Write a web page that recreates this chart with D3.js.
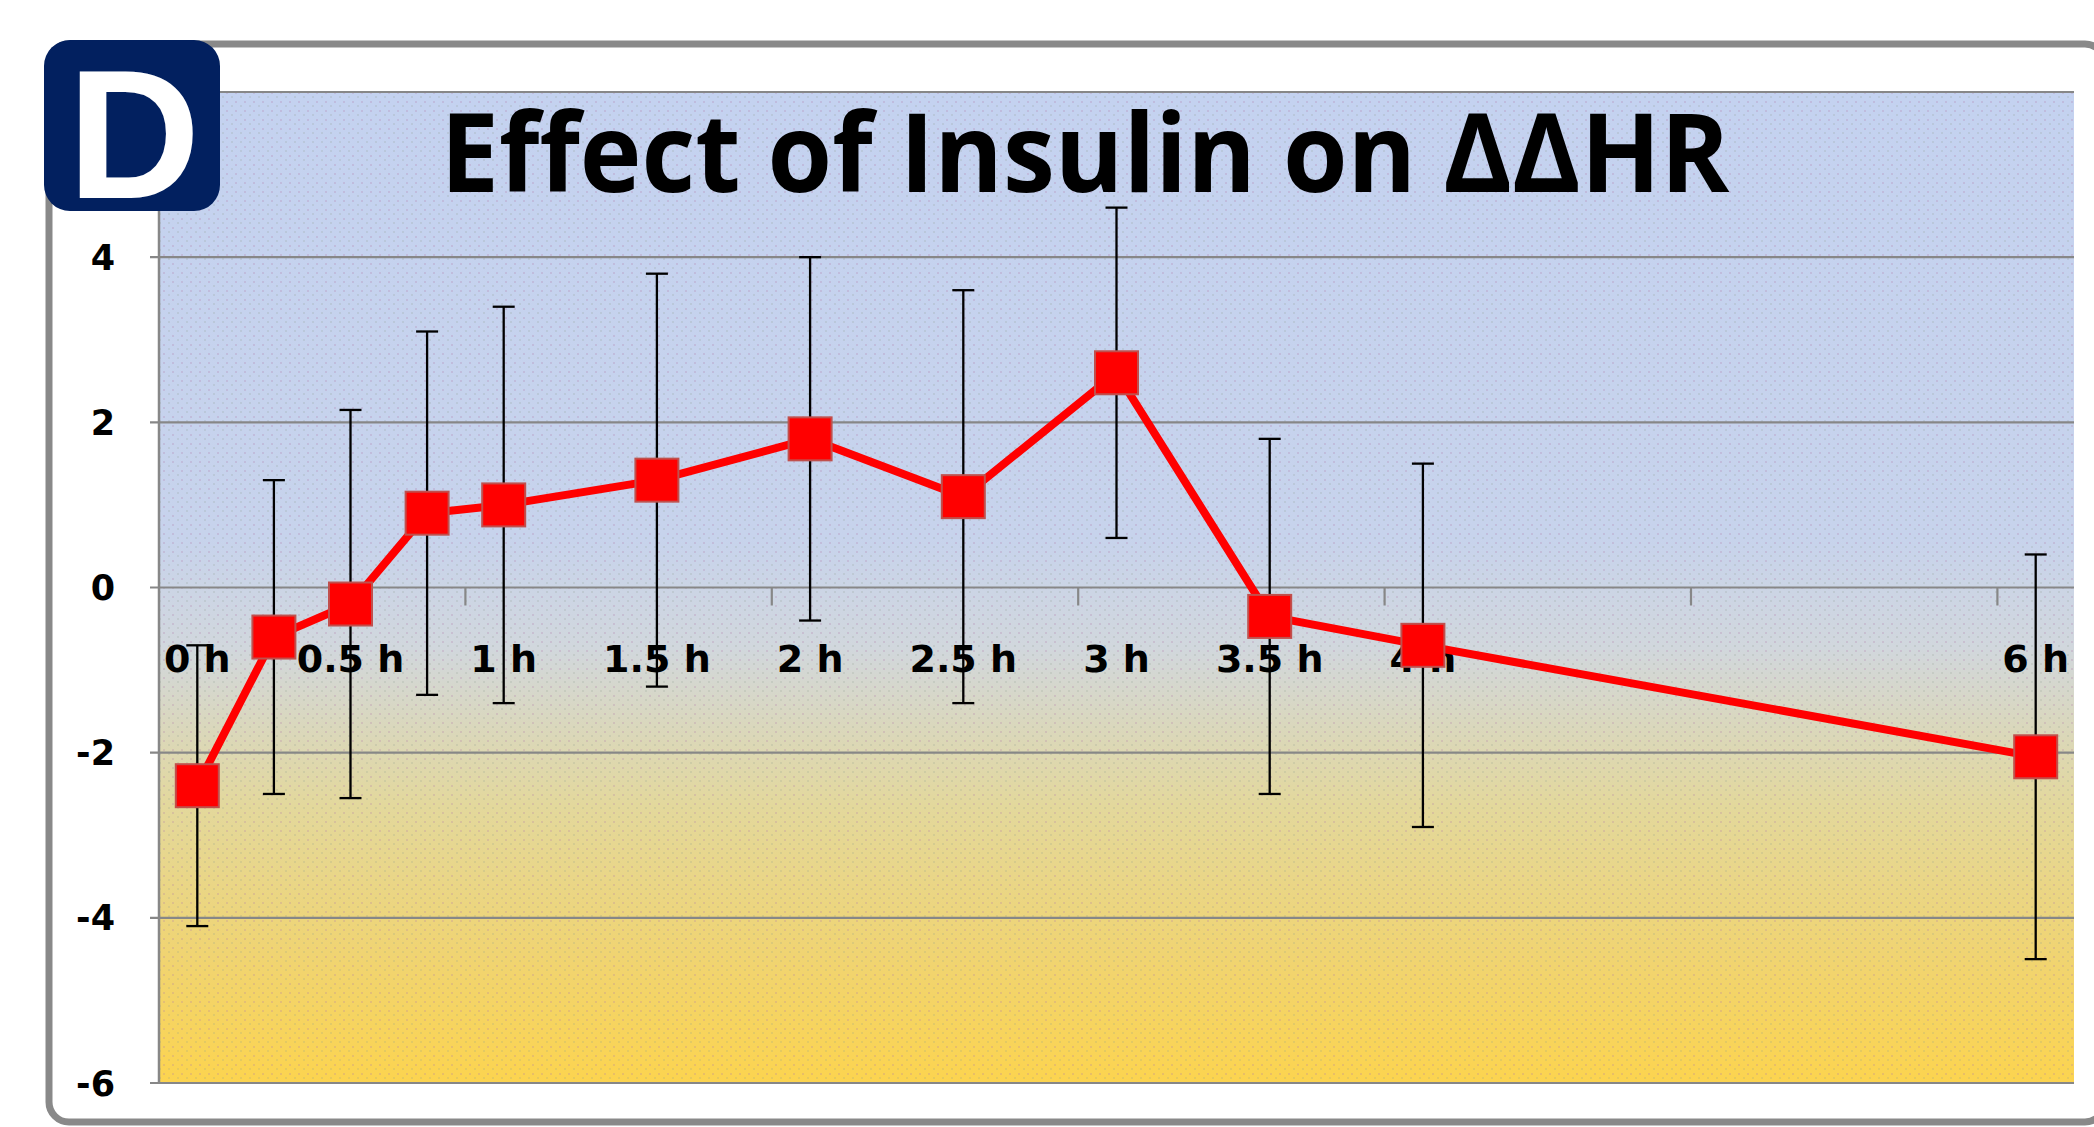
<!DOCTYPE html>
<html>
<head>
<meta charset="utf-8">
<script src="https://cdn.jsdelivr.net/npm/d3@7"></script>
<style>
  html, body { margin: 0; padding: 0; background: #ffffff; }
  svg { display: block; }
</style>
</head>
<body>
<script>
// ---- data ----
const hours     = [0, 0.25, 0.5, 0.75, 1, 1.5, 2, 2.5, 3, 3.5, 4, 6];
const meanDHR   = [-2.4, -0.6, -0.2, 0.9, 1.0, 1.3, 1.8, 1.1, 2.6, -0.35, -0.7, -2.05];
const errDHR    = [1.7, 1.9, 2.35, 2.2, 2.4, 2.5, 2.2, 2.5, 2.0, 2.15, 2.2, 2.45];
const xTickHours  = [0, 0.5, 1, 1.5, 2, 2.5, 3, 3.5, 4, 6];
const xTickLabels = ["0 h", "0.5 h", "1 h", "1.5 h", "2 h", "2.5 h", "3 h", "3.5 h", "4 h", "6 h"];
const xMinorTicks = [0.875, 1.875, 2.875, 3.875, 4.875, 5.875];
const yTicks      = [4, 2, 0, -2, -4, -6];
const titleText   = "Effect of Insulin on ΔΔHR";
const badgeText   = "D";

const W = 2094, H = 1127;
const plot = { left: 159, right: 2074, top: 92, bottom: 1083 };

const svg = d3.select("body").append("svg").attr("width", W).attr("height", H);
const defs = svg.append("defs");

// background gradient
const grad = defs.append("linearGradient").attr("id", "bg")
  .attr("x1", 0).attr("y1", 0).attr("x2", 0).attr("y2", 1);
[[0, "#c4d2f0"], [0.45, "#c7d3ec"], [0.56, "#d1d7dd"], [0.72, "#e3d89c"], [0.87, "#f0d472"], [1, "#fcd44f"]]
  .forEach(([o, c]) => grad.append("stop").attr("offset", o).attr("stop-color", c));

// stipple texture
const pat = defs.append("pattern").attr("id", "dots").attr("patternUnits", "userSpaceOnUse")
  .attr("width", 9).attr("height", 9);
pat.append("rect").attr("x", 1).attr("y", 2).attr("width", 2).attr("height", 2).attr("fill", "#b07aa8").attr("opacity", 0.25);
pat.append("rect").attr("x", 6).attr("y", 6).attr("width", 2).attr("height", 2).attr("fill", "#8a9a8a").attr("opacity", 0.2);

// outer frame
svg.append("rect").attr("x", 49).attr("y", 44).attr("width", 2056).attr("height", 1078)
  .attr("rx", 20).attr("fill", "#ffffff").attr("stroke", "#898989").attr("stroke-width", 7);

const x = d3.scaleLinear().domain([-0.125, 6.125]).range([plot.left, plot.right]);
const y = d3.scaleLinear().domain([-6, 6]).range([plot.bottom, plot.top]);

// plot background
svg.append("rect").attr("x", plot.left).attr("y", plot.top)
  .attr("width", plot.right - plot.left).attr("height", plot.bottom - plot.top)
  .attr("fill", "url(#bg)");
svg.append("rect").attr("x", plot.left).attr("y", plot.top)
  .attr("width", plot.right - plot.left).attr("height", plot.bottom - plot.top)
  .attr("fill", "url(#dots)");

// gridlines
svg.append("g").selectAll("line").data(yTicks.concat([6])).join("line")
  .attr("x1", plot.left - 9).attr("x2", plot.right)
  .attr("y1", d => y(d)).attr("y2", d => y(d))
  .attr("stroke", "#878787").attr("stroke-width", 2.2);

// y axis line
svg.append("line").attr("x1", plot.left).attr("x2", plot.left)
  .attr("y1", plot.top).attr("y2", plot.bottom)
  .attr("stroke", "#878787").attr("stroke-width", 2.5);

// y tick labels
svg.append("g").selectAll("text").data(yTicks).join("text")
  .attr("x", 115).attr("y", d => y(d)).attr("dy", "0.36em")
  .attr("text-anchor", "end")
  .attr("font-family", "DejaVu Sans").attr("font-weight", "bold").attr("font-size", 35)
  .attr("fill", "#000").text(d => d);

// x axis minor ticks (downwards from zero line)
svg.append("g").selectAll("line").data(xMinorTicks).join("line")
  .attr("x1", d => x(d)).attr("x2", d => x(d))
  .attr("y1", y(0)).attr("y2", y(0) + 18)
  .attr("stroke", "#878787").attr("stroke-width", 2.2);

// x tick labels
svg.append("g").selectAll("text").data(xTickHours).join("text")
  .attr("x", d => x(d)).attr("y", y(0) + 84)
  .attr("text-anchor", "middle")
  .attr("font-family", "DejaVu Sans").attr("font-weight", "bold").attr("font-size", 38)
  .attr("fill", "#000").text((d, i) => xTickLabels[i]);

const pts = hours.map((h, i) => ({ h, m: meanDHR[i], e: errDHR[i] }));

// line
svg.append("path").datum(pts)
  .attr("d", d3.line().x(d => x(d.h)).y(d => y(d.m)))
  .attr("fill", "none").attr("stroke", "#ff0000").attr("stroke-width", 8)
  .attr("stroke-linejoin", "round");

// error bars
const eb = svg.append("g").attr("stroke", "#000").attr("stroke-width", 2.3);
eb.selectAll("line.v").data(pts).join("line").attr("class", "v")
  .attr("x1", d => x(d.h)).attr("x2", d => x(d.h))
  .attr("y1", d => y(d.m + d.e)).attr("y2", d => y(d.m - d.e));
eb.selectAll("line.t").data(pts).join("line").attr("class", "t")
  .attr("x1", d => x(d.h) - 11).attr("x2", d => x(d.h) + 11)
  .attr("y1", d => y(d.m + d.e)).attr("y2", d => y(d.m + d.e));
eb.selectAll("line.b").data(pts).join("line").attr("class", "b")
  .attr("x1", d => x(d.h) - 11).attr("x2", d => x(d.h) + 11)
  .attr("y1", d => y(d.m - d.e)).attr("y2", d => y(d.m - d.e));

// markers
const ms = 43;
svg.append("g").selectAll("rect").data(pts).join("rect")
  .attr("x", d => x(d.h) - ms / 2).attr("y", d => y(d.m) - ms / 2)
  .attr("width", ms).attr("height", ms)
  .attr("fill", "#ff0000").attr("stroke", "#c0504d").attr("stroke-width", 2);

// title
svg.append("text")
  .attr("x", 1085).attr("y", 192).attr("text-anchor", "middle")
  .attr("font-family", "Open Sans").attr("font-weight", "bold").attr("font-size", 110)
  .attr("fill", "#000")
  .attr("textLength", 1289).attr("lengthAdjust", "spacingAndGlyphs")
  .text(titleText);

// badge
svg.append("rect").attr("x", 44).attr("y", 40).attr("width", 176).attr("height", 171)
  .attr("rx", 26).attr("fill", "#02205f");
svg.append("text").attr("x", 134).attr("y", 198).attr("text-anchor", "middle")
  .attr("font-family", "Liberation Sans").attr("font-weight", "bold").attr("font-size", 184)
  .attr("fill", "#ffffff").text(badgeText);
</script>
</body>
</html>
